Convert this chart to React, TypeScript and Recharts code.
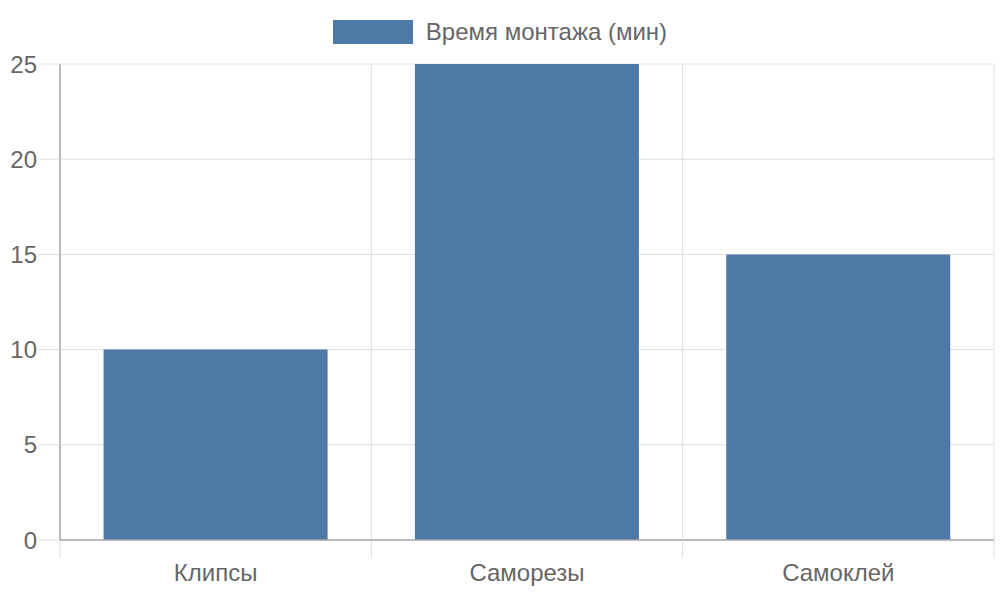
import React from "react";
import {
  Bar,
  BarChart,
  CartesianGrid,
  Legend,
  XAxis,
  YAxis,
} from "recharts";

// Chart data
const categories = ["Клипсы", "Саморезы", "Самоклей"];
const minutes = [10, 25, 15];
const yTicks = [0, 5, 10, 15, 20, 25];
const seriesName = "Время монтажа (мин)";

const data = categories.map((name, i) => ({ name, minutes: minutes[i] }));

const FONT = '"Liberation Sans", Arial, sans-serif';
const BAR_COLOR = "#4e79a7";
const GRID = "#dedede";
const AXIS = "#a8a8a8";
const TEXT = "#666666";

// vertical grid lines sit on category boundaries, not centres
const boundaryGrid = ({ offset }: any) =>
  Array.from(
    { length: categories.length + 1 },
    (_, i) => offset.left + (offset.width * i) / categories.length
  );

// category label plus the boundary tick marks hanging below the axis
const CategoryTick = (props: any) => {
  const { x, y, payload, width, visibleTicksCount, index } = props;
  const band = width / visibleTicksCount;
  const axisY = y - 24;
  return (
    <g>
      <line x1={x - band / 2} x2={x - band / 2} y1={axisY} y2={axisY + 18} stroke={GRID} />
      {index === visibleTicksCount - 1 && (
        <line x1={x + band / 2} x2={x + band / 2} y1={axisY} y2={axisY + 18} stroke={GRID} />
      )}
      <text
        x={x}
        y={y}
        dy="0.71em"
        textAnchor="middle"
        fill={TEXT}
        fontSize={24}
        fontFamily={FONT}
      >
        {payload.value}
      </text>
    </g>
  );
};

const renderLegend = () => (
  <div
    style={{
      height: 56,
      display: "flex",
      justifyContent: "center",
      alignItems: "flex-start",
      paddingTop: 12,
      paddingLeft: 6,
      boxSizing: "border-box",
      fontFamily: FONT,
    }}
  >
    <div style={{ width: 80, height: 24, background: BAR_COLOR }} />
    <span
      style={{
        marginLeft: 13,
        fontSize: 24,
        lineHeight: "24px",
        color: TEXT,
      }}
    >
      {seriesName}
    </span>
  </div>
);

const App = () => {
  return (
    <div style={{ position: "absolute", left: 0, top: 0, width: 1000, height: 600 }}>
      <BarChart
        width={1000}
        height={600}
        data={data}
        margin={{ top: 8, right: 6, left: 0, bottom: 0 }}
        barCategoryGap="14%"
      >
        <CartesianGrid stroke={GRID} verticalCoordinatesGenerator={boundaryGrid} />
        <XAxis
          dataKey="name"
          height={60}
          tickLine={false}
          tickSize={6}
          tickMargin={18}
          axisLine={{ stroke: AXIS, strokeWidth: 1.5 }}
          tick={<CategoryTick />}
        />
        <YAxis
          width={60}
          domain={[0, 25]}
          ticks={yTicks}
          tickSize={22}
          tickMargin={1}
          tickLine={{ stroke: GRID }}
          axisLine={{ stroke: AXIS, strokeWidth: 1.5 }}
          tick={{ fill: TEXT, fontSize: 24, fontFamily: FONT }}
        />
        <Legend verticalAlign="top" content={renderLegend} />
        <Bar
          dataKey="minutes"
          name={seriesName}
          fill={BAR_COLOR}
          isAnimationActive={false}
        />
      </BarChart>
    </div>
  );
};

export default App;
